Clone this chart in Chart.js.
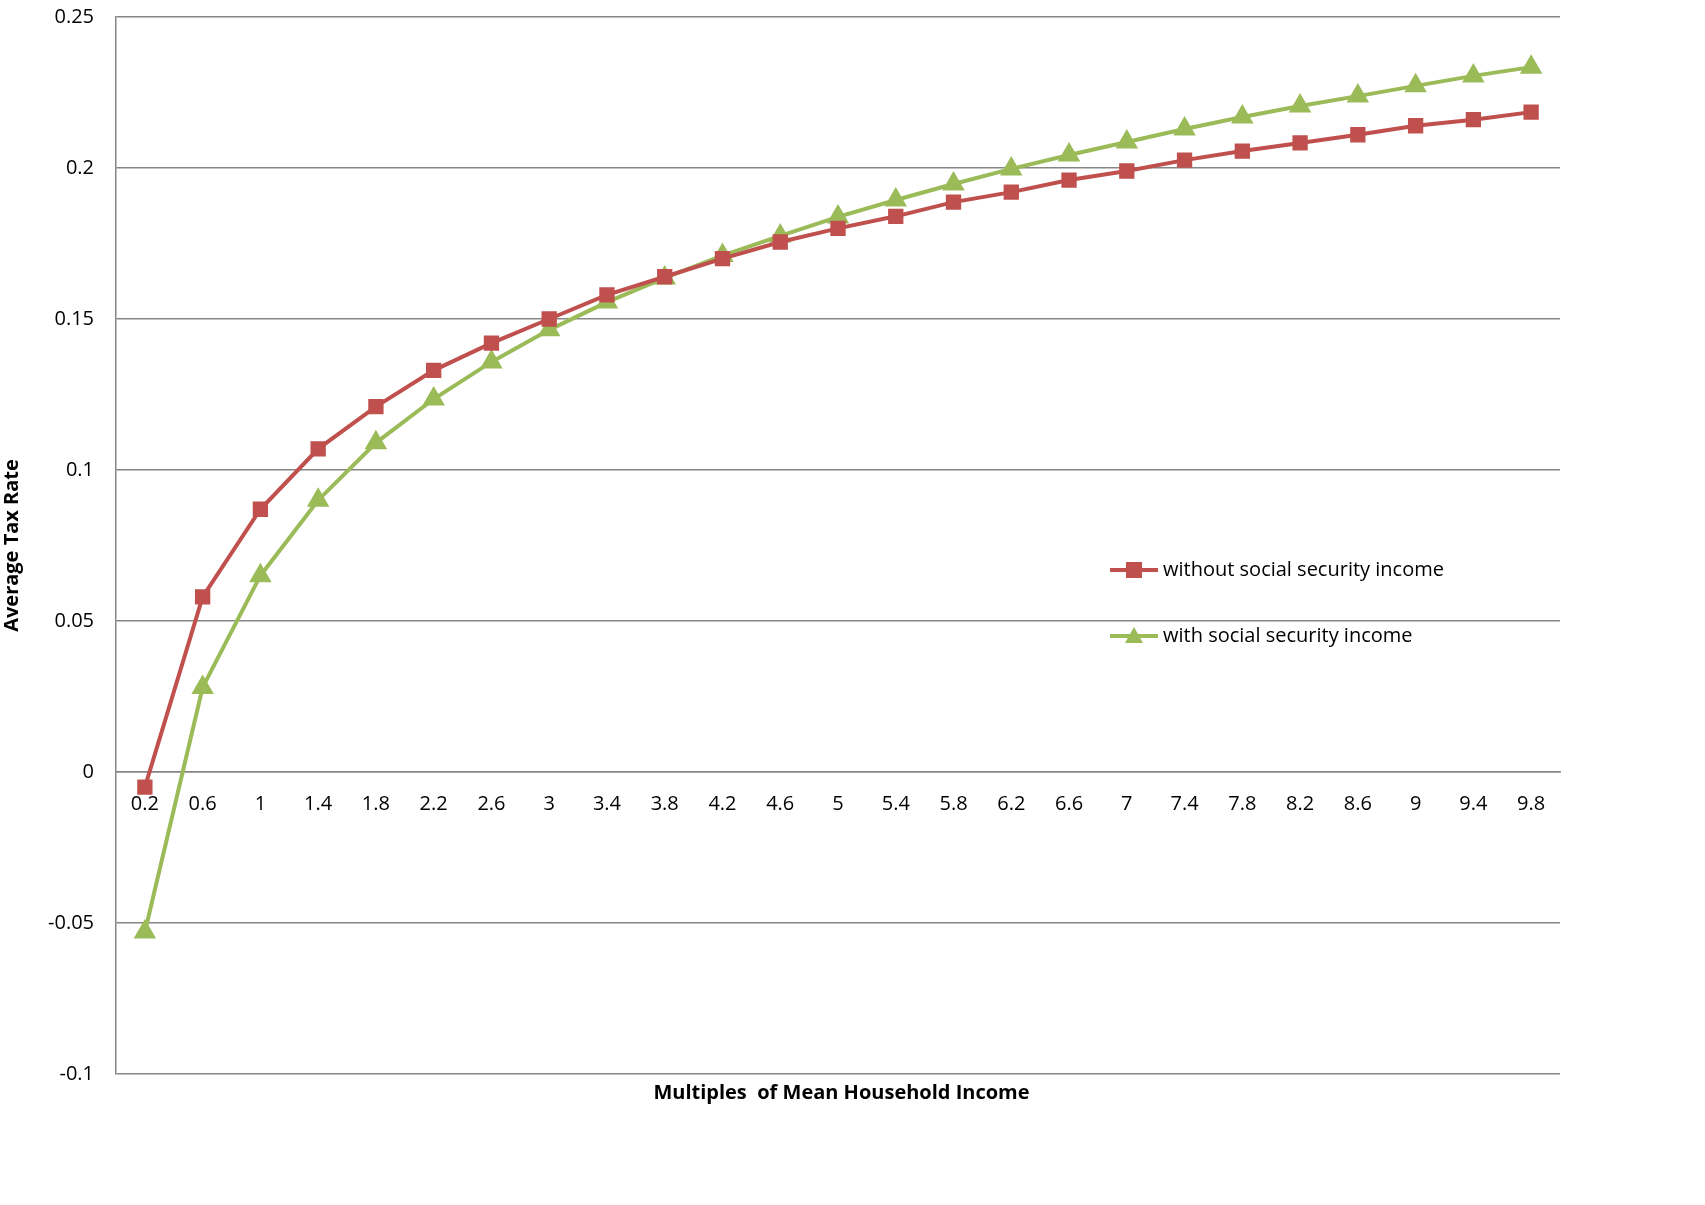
<!DOCTYPE html>
<html>
<head>
<meta charset="utf-8">
<script src="https://cdn.jsdelivr.net/npm/chart.js@4"></script>
<style>
  body { margin: 0; background: #fff; overflow: hidden; }
  #wrap { position: relative; width: 1705px; height: 1205px; overflow: hidden; }
  #c { display: block; margin-top: -17px; }
  #xtitle { position: absolute; left: 116px; width: 1451px; top: 1078px; text-align: center;
            font: bold 20px "Open Sans", sans-serif; color: #000; }
</style>
</head>
<body>
<div id="wrap">
  <canvas id="c" width="1705" height="1222"></canvas>
  <div id="xtitle">Multiples&nbsp; of Mean Household Income</div>
</div>
<script>
const categories = ['0.2','0.6','1','1.4','1.8','2.2','2.6','3','3.4','3.8','4.2','4.6','5','5.4','5.8','6.2','6.6','7','7.4','7.8','8.2','8.6','9','9.4','9.8'];
const withoutSS = [-0.005,0.058,0.087,0.107,0.121,0.133,0.142,0.150,0.158,0.164,0.170,0.1755,0.180,0.184,0.1887,0.192,0.196,0.199,0.2026,0.2056,0.2083,0.211,0.214,0.216,0.2185];
const withSS = [-0.053,0.028,0.065,0.090,0.109,0.1235,0.1358,0.1464,0.1556,0.1636,0.171,0.1775,0.1838,0.1894,0.1947,0.1997,0.2043,0.2086,0.2129,0.2169,0.2205,0.2238,0.2272,0.2305,0.2334];
const yTicks = [-0.1,-0.05,0,0.05,0.1,0.15,0.2,0.25];

const font = { family: '"Open Sans", sans-serif', size: 20 };

// legend drawn inside the plot, like the original (canvas is shifted up 17px)
const innerLegend = {
  id: 'innerLegend',
  afterDraw(chart) {
    const ctx = chart.ctx;
    const items = [
      { y: 587, ds: chart.data.datasets[0] },
      { y: 653, ds: chart.data.datasets[1] }
    ];
    ctx.save();
    items.forEach(it => {
      ctx.strokeStyle = it.ds.borderColor;
      ctx.lineWidth = 4;
      ctx.beginPath(); ctx.moveTo(1110, it.y); ctx.lineTo(1158, it.y); ctx.stroke();
      ctx.fillStyle = it.ds.pointBackgroundColor;
      if (it.ds.pointStyle === 'rect') {
        ctx.fillRect(1126, it.y - 8, 16, 16);
      } else {
        ctx.beginPath(); ctx.moveTo(1134, it.y - 9); ctx.lineTo(1143, it.y + 7); ctx.lineTo(1125, it.y + 7); ctx.closePath(); ctx.fill();
      }
      ctx.fillStyle = '#000';
      ctx.font = '20px "Open Sans", sans-serif';
      ctx.textBaseline = 'middle';
      ctx.fillText(it.ds.label, 1163, it.y);
    });
    ctx.restore();
  }
};

new Chart(document.getElementById('c').getContext('2d'), {
  type: 'line',
  data: {
    labels: categories,
    datasets: [{
      label: 'without social security income',
      data: withoutSS,
      borderColor: '#C0504D',
      backgroundColor: '#C0504D',
      pointBackgroundColor: '#C0504D',
      pointBorderColor: '#C0504D',
      pointStyle: 'rect',
      pointRadius: 8,
      borderWidth: 4,
      tension: 0
    }, {
      label: 'with social security income',
      data: withSS,
      borderColor: '#9BBB59',
      backgroundColor: '#9BBB59',
      pointBackgroundColor: '#9BBB59',
      pointBorderColor: '#9BBB59',
      pointStyle: 'triangle',
      pointRadius: 9,
      borderWidth: 4,
      tension: 0
    }]
  },
  options: {
    responsive: false,
    animation: false,
    layout: { padding: { top: 0, right: 145, bottom: 131, left: 0 } },
    plugins: { legend: { display: false }, tooltip: { enabled: false } },
    scales: {
      x: {
        position: { y: 0 },
        offset: true,
        grid: { display: false, drawTicks: false },
        border: { color: '#868686', width: 1.5 },
        ticks: { color: '#000', font, padding: 20, maxRotation: 0, autoSkip: false }
      },
      y: {
        min: -0.1, max: 0.25,
        afterFit: s => { s.width = 116; },
        afterBuildTicks: s => { s.ticks = yTicks.map(v => ({ value: v })); },
        grid: { color: '#868686', lineWidth: 1.5, drawTicks: false },
        border: { color: '#868686', width: 1.5 },
        ticks: { color: '#000', font, padding: 22, callback: v => String(Math.round(v * 100) / 100) },
        title: { display: true, text: 'Average Tax Rate', color: '#000',
                 font: { family: '"Open Sans", sans-serif', size: 20, weight: 'bold' }, padding: 0 }
      }
    }
  },
  plugins: [innerLegend]
});
</script>
</body>
</html>
